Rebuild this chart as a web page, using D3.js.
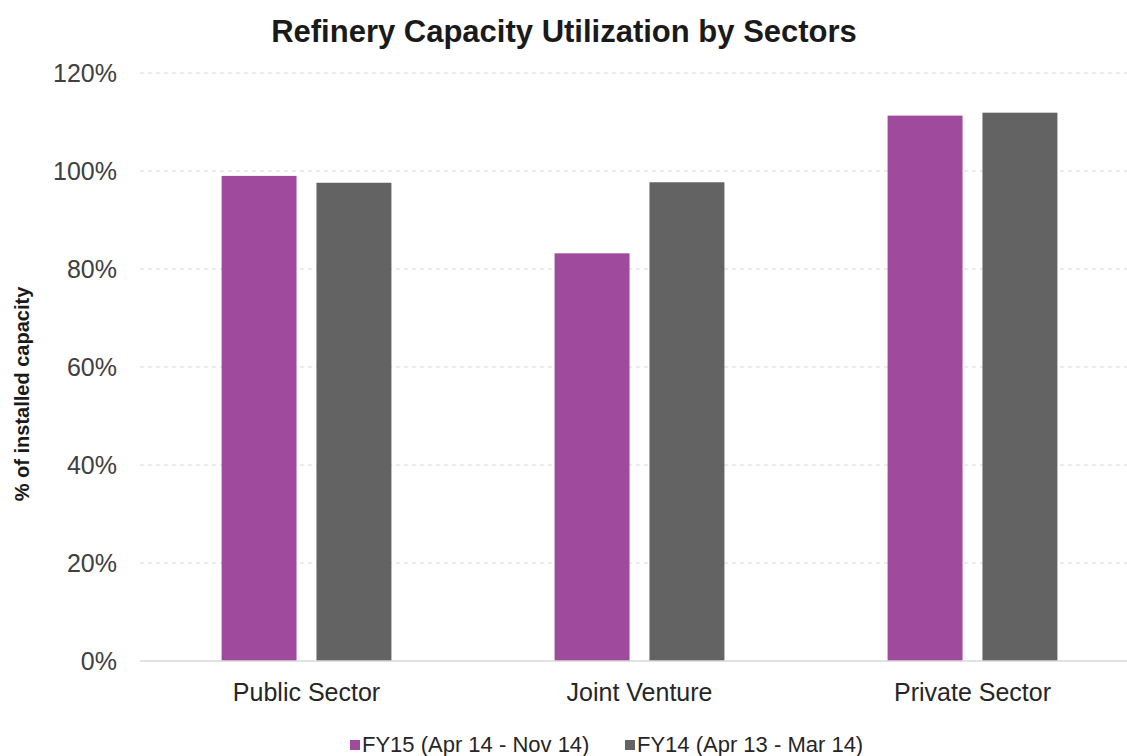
<!DOCTYPE html>
<html><head><meta charset="utf-8">
<script src="https://cdn.jsdelivr.net/npm/d3@7"></script>
<style>body{margin:0;background:#fff}svg{font-family:"Liberation Sans",Arial,sans-serif}</style>
</head><body><svg id="c" width="1127" height="756"></svg>
<script>
const categories = ["Public Sector", "Joint Venture", "Private Sector"];
const seriesNames = ["FY15 (Apr 14 - Nov 14)", "FY14 (Apr 13 - Mar 14)"];
const fy15 = [99.0, 83.2, 111.3];
const fy14 = [97.6, 97.7, 111.9];
const yTicks = [0, 20, 40, 60, 80, 100, 120];
const colors = ["#A04A9E", "#636363"];

(function () {
const svg = d3.select("#c");
const mLeft = 140, mRight = 1139, mTop = 73, mBottom = 661;
const x0 = d3.scaleBand().domain(categories).range([mLeft, mRight]).paddingInner(0.49).paddingOuter(0.245);
const x1 = d3.scaleBand().domain([0, 1]).range([0, x0.bandwidth()]).paddingInner(0.21);
const y = d3.scaleLinear().domain([0, 120]).range([mBottom, mTop]);

// grid
svg.append("g").selectAll("line").data(yTicks.filter(d => d > 0)).join("line")
  .attr("x1", mLeft).attr("x2", mRight).attr("y1", d => y(d)).attr("y2", d => y(d))
  .attr("stroke", "#d9d9d9").attr("stroke-width", 1.2).attr("stroke-dasharray", "4,4");

// y axis labels
const yAxis = d3.axisLeft(y).tickValues(yTicks).tickFormat(d => d + "%").tickSize(0).tickPadding(0);
const ga = svg.append("g").attr("transform", `translate(${mLeft - 23},0)`).call(yAxis);
ga.select(".domain").remove();
ga.selectAll("text").attr("font-size", 25).attr("fill", "#404040").attr("font-family", "Liberation Sans, Arial, sans-serif");

// bars
const data = categories.map((c, i) => ({c, v: [fy15[i], fy14[i]]}));
const g = svg.append("g").selectAll("g").data(data).join("g").attr("transform", d => `translate(${x0(d.c)},0)`);
g.selectAll("rect").data(d => d.v.map((v, k) => ({v, k}))).join("rect")
  .attr("x", d => x1(d.k)).attr("width", x1.bandwidth())
  .attr("y", d => y(d.v)).attr("height", d => y(0) - y(d.v))
  .attr("fill", d => colors[d.k]);

// baseline
svg.append("line").attr("x1", mLeft).attr("x2", mRight).attr("y1", y(0)).attr("y2", y(0))
  .attr("stroke", "#d9d9d9").attr("stroke-width", 1.5);

// x labels
const xAxis = d3.axisBottom(x0).tickSize(0).tickPadding(0);
const gx = svg.append("g").attr("transform", `translate(0,${y(0) + 40})`).call(xAxis);
gx.select(".domain").remove();
gx.selectAll("text").attr("font-size", 25).attr("fill", "#262626").attr("dy", 0).attr("font-family", "Liberation Sans, Arial, sans-serif");

// title
svg.append("text").attr("x", 564).attr("y", 42).attr("text-anchor", "middle")
  .attr("font-size", 31).attr("font-weight", "bold").attr("fill", "#1a1a1a")
  .text("Refinery Capacity Utilization by Sectors");

// y title
svg.append("text").attr("transform", `translate(29,394) rotate(-90)`)
  .attr("text-anchor", "middle").attr("font-size", 20).attr("font-weight", "bold").attr("fill", "#1a1a1a")
  .text("% of installed capacity");

// legend
const legX = [350, 625];
const lg = svg.append("g").selectAll("g").data(seriesNames).join("g")
  .attr("transform", (d, i) => `translate(${legX[i]},752)`);
lg.append("rect").attr("x", 0).attr("y", -12).attr("width", 10).attr("height", 10).attr("fill", (d, i) => colors[i]);
lg.append("text").attr("x", 12).attr("y", 0).attr("font-size", 22).attr("fill", "#262626").text(d => d);
})();
</script></body></html>
